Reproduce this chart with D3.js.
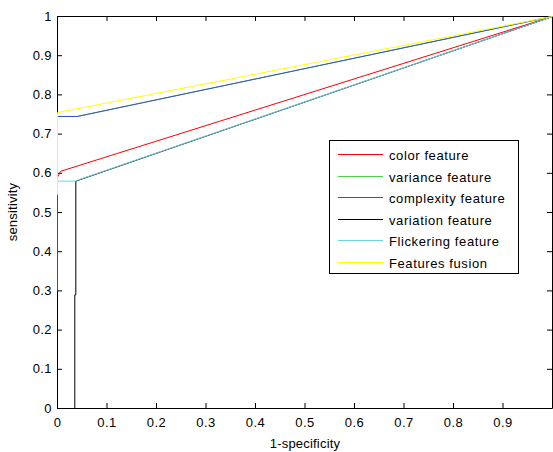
<!DOCTYPE html>
<html>
<head>
<meta charset="utf-8">
<script src="https://cdn.jsdelivr.net/npm/d3@7"></script>
<style>
  body { margin: 0; background: #fff; }
  text { font-family: "Liberation Sans", Arial, sans-serif; fill: #000; }
</style>
</head>
<body>
<svg id="chart" width="553" height="452"></svg>
<script>
// ROC curves, one point list per feature
const seriesNames = ['color feature', 'variance feature', 'complexity feature',
                     'variation feature', 'Flickering feature', 'Features fusion'];
const seriesColors = ['#ff0000', '#4fd04f', '#3a4fc4', '#000000', '#6fd3e3', '#ffff00'];

const colorPts = [[0, 0.3], [0, 0.59], [0.006, 0.605], [1, 1]];
const variancePts = [[0, 0.745], [0.04, 0.745], [1, 1]];
const complexityPts = [[0, 0.745], [0.04, 0.745], [1, 1]];
const variationPts = [[0.035, 0], [0.035, 0.29], [0.037, 0.29], [0.037, 0.58], [1, 1]];
const flickeringPts = [[0, 0.58], [0.035, 0.58], [1, 1]];
const fusionPts = [[0, 0.545], [0, 0.755], [1, 1]];

const xTicks = [0, 0.1, 0.2, 0.3, 0.4, 0.5, 0.6, 0.7, 0.8, 0.9];
const yTicks = [0, 0.1, 0.2, 0.3, 0.4, 0.5, 0.6, 0.7, 0.8, 0.9, 1];

const allSeries = [colorPts, variancePts, complexityPts, variationPts, flickeringPts, fusionPts];

const svg = d3.select('#chart');
const plotLeft = 57, plotRight = 552, plotTop = 16, plotBottom = 408;

const x = d3.scaleLinear().domain([0, 1]).range([plotLeft, plotRight]);
const y = d3.scaleLinear().domain([0, 1]).range([plotBottom, plotTop]);

const tickFmt = d => d === 0 || d === 1 ? String(d) : d3.format('.1f')(d);

// axes box with inward ticks
svg.append('g').attr('transform', `translate(0,${plotBottom})`)
    .call(d3.axisBottom(x).tickValues(xTicks).tickSizeInner(-5).tickSizeOuter(0).tickPadding(10).tickFormat(tickFmt));
svg.append('g').attr('transform', `translate(${plotLeft},0)`)
    .call(d3.axisLeft(y).tickValues(yTicks).tickSizeInner(-5).tickSizeOuter(0).tickPadding(5).tickFormat(tickFmt));
svg.append('g').attr('transform', `translate(0,${plotTop})`)
    .call(d3.axisTop(x).tickValues(xTicks).tickSizeInner(-5).tickSizeOuter(0).tickFormat(''));
svg.append('g').attr('transform', `translate(${plotRight},0)`)
    .call(d3.axisRight(y).tickValues(yTicks).tickSizeInner(-5).tickSizeOuter(0).tickFormat(''));

svg.selectAll('.domain').attr('stroke', '#000');
svg.selectAll('.tick line').attr('stroke', '#000');
svg.selectAll('.tick text')
    .attr('font-size', 13).attr('fill', '#000').attr('letter-spacing', 0.4)
    .attr('font-family', '"Liberation Sans", Arial, sans-serif');

// curves, shifted half a pixel to sit on the axis pixels
const line = d3.line().x(d => x(d[0])).y(d => y(d[1]));
svg.append('g').attr('transform', 'translate(0.5,0.5)')
    .selectAll('path')
    .data(allSeries)
    .enter().append('path')
    .attr('d', line)
    .attr('fill', 'none')
    .attr('stroke', (d, i) => seriesColors[i])
    .attr('stroke-width', 1);

// axis labels
svg.append('text').attr('x', 305).attr('y', 448)
    .attr('text-anchor', 'middle').attr('font-size', 13).attr('letter-spacing', 0.2).text('1-specificity');
svg.append('text').attr('transform', `translate(17,212) rotate(-90)`)
    .attr('text-anchor', 'middle').attr('font-size', 13).attr('letter-spacing', 0.2).text('sensitivity');

// legend
const legend = svg.append('g');
legend.append('rect').attr('x', 329.5).attr('y', 140.5).attr('width', 189).attr('height', 133)
    .attr('fill', '#fff').attr('stroke', '#000');
const rows = legend.selectAll('g.row').data(seriesNames).enter().append('g')
    .attr('class', 'row')
    .attr('transform', (d, i) => `translate(0,${Math.round(154 + i * 21.6) + 0.5})`);
rows.append('line').attr('x1', 338).attr('x2', 383).attr('y1', 0).attr('y2', 0)
    .attr('stroke', (d, i) => seriesColors[i]);
rows.append('text').attr('x', 389).attr('y', 5).attr('font-size', 13).attr('letter-spacing', 0.6).text(d => d);
</script>
</body>
</html>
